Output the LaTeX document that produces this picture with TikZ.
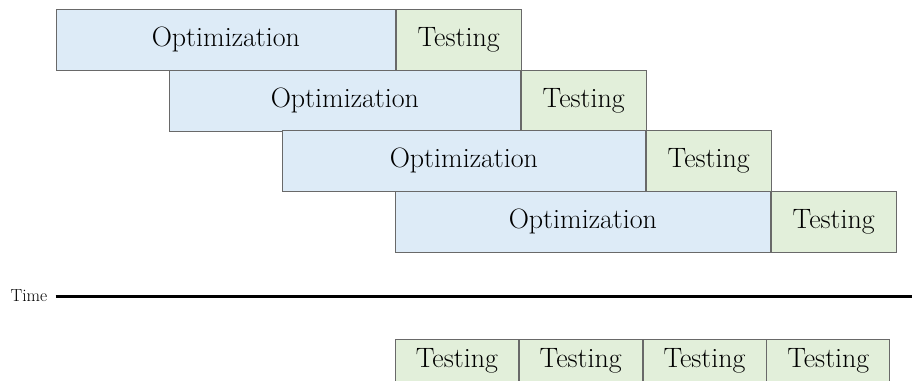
\documentclass[tikz,border=0pt]{standalone}
\definecolor{optfill}{RGB}{221,235,247}
\definecolor{testfill}{RGB}{226,239,218}
\definecolor{edge}{RGB}{105,105,105}
\tikzset{
  phase/.style={draw=edge, line width=0.8pt, anchor=north west, inner sep=0pt,
    font=\fontsize{28}{32}\selectfont},
  optbox/.style={phase, fill=optfill, minimum height=61pt},
  testbox/.style={phase, fill=testfill, minimum height=61pt, minimum width=125pt},
  boxlabel/.style={inner sep=0pt, font=\fontsize{28}{32}\selectfont},
}
\begin{document}
\begin{tikzpicture}[x=1pt, y=-1pt]
\useasboundingbox (0,0) rectangle (912,380);
\clip (0,0) rectangle (912,380);

% staggered optimization / testing cycles
\node[optbox, minimum width=339pt] (o1) at (56,9) {Optimization};
\node[testbox] (t1) at (o1.north east) {Testing};
\node[optbox, minimum width=351pt] (o2) at (169,70) {Optimization};
\node[testbox] (t2) at (o2.north east) {Testing};
\node[optbox, minimum width=363pt] (o3) at (282,130) {Optimization};
\node[testbox] (t3) at (o3.north east) {Testing};
\node[optbox, minimum width=375pt] (o4) at (395,191) {Optimization};
\node[testbox] (t4) at (o4.north east) {Testing};

% time axis
\node[font=\fontsize{17.5}{20}\selectfont, inner sep=0pt] (time) at (29,296) {Time};
\coordinate (tend) at (912,296);
\draw[line width=3pt] ([xshift=8pt]time.east) -- (tend);

% continuous testing row
\node[testbox, minimum width=123pt, minimum height=70pt] (b1) at (395,339) {};
\node[testbox, minimum width=123pt, minimum height=70pt] (b2) at (b1.north east) {};
\node[testbox, minimum width=123pt, minimum height=70pt] (b3) at (b2.north east) {};
\node[testbox, minimum width=123pt, minimum height=70pt] (b4) at (b3.north east) {};
\foreach \b in {b1,b2,b3,b4}
  \node[boxlabel] (\b l) at ([yshift=-22pt]\b.north) {Testing};
\end{tikzpicture}
\end{document}
